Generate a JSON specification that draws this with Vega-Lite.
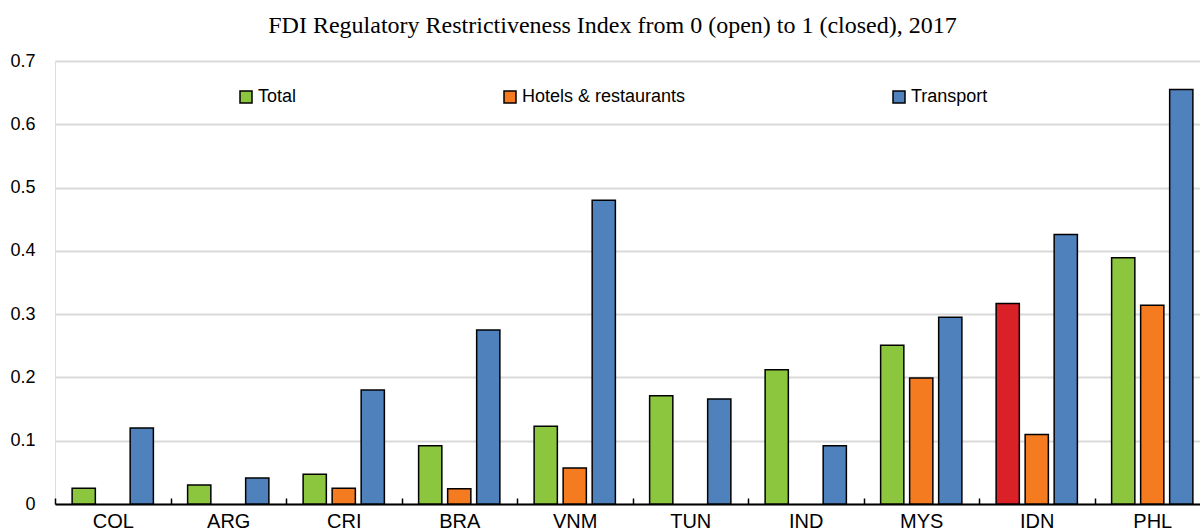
{
  "$schema": "https://vega.github.io/schema/vega-lite/v6.json",
  "autosize": "none",
  "width": 1145,
  "height": 443,
  "padding": {"left": 55, "top": 61, "right": 0, "bottom": 24},
  "background": "white",
  "title": {
    "text": "FDI Regulatory Restrictiveness Index from 0 (open) to 1 (closed), 2017",
    "font": "Liberation Serif",
    "fontSize": 24,
    "fontWeight": "normal",
    "color": "#000000",
    "anchor": "middle",
    "frame": "group",
    "dx": -15,
    "offset": 14
  },
  "data": {
    "values": [
      {"country": "COL", "series": "Total", "value": 0.025},
      {"country": "COL", "series": "Transport", "value": 0.120},
      {"country": "ARG", "series": "Total", "value": 0.030},
      {"country": "ARG", "series": "Transport", "value": 0.041},
      {"country": "CRI", "series": "Total", "value": 0.047},
      {"country": "CRI", "series": "Hotels & restaurants", "value": 0.025},
      {"country": "CRI", "series": "Transport", "value": 0.180},
      {"country": "BRA", "series": "Total", "value": 0.092},
      {"country": "BRA", "series": "Hotels & restaurants", "value": 0.024},
      {"country": "BRA", "series": "Transport", "value": 0.275},
      {"country": "VNM", "series": "Total", "value": 0.123},
      {"country": "VNM", "series": "Hotels & restaurants", "value": 0.057},
      {"country": "VNM", "series": "Transport", "value": 0.480},
      {"country": "TUN", "series": "Total", "value": 0.171},
      {"country": "TUN", "series": "Transport", "value": 0.166},
      {"country": "IND", "series": "Total", "value": 0.212},
      {"country": "IND", "series": "Transport", "value": 0.092},
      {"country": "MYS", "series": "Total", "value": 0.251},
      {"country": "MYS", "series": "Hotels & restaurants", "value": 0.199},
      {"country": "MYS", "series": "Transport", "value": 0.295},
      {"country": "IDN", "series": "Total", "value": 0.317},
      {"country": "IDN", "series": "Hotels & restaurants", "value": 0.110},
      {"country": "IDN", "series": "Transport", "value": 0.426},
      {"country": "PHL", "series": "Total", "value": 0.389},
      {"country": "PHL", "series": "Hotels & restaurants", "value": 0.314},
      {"country": "PHL", "series": "Transport", "value": 0.655}
    ]
  },
  "mark": {"type": "bar", "stroke": "#000000", "strokeWidth": 1.5},
  "encoding": {
    "x": {
      "field": "country",
      "type": "nominal",
      "sort": ["COL", "ARG", "CRI", "BRA", "VNM", "TUN", "IND", "MYS", "IDN", "PHL"],
      "scale": {"range": [0, 1155], "paddingInner": 0, "paddingOuter": 0},
      "axis": {
        "title": null,
        "labelAngle": 0,
        "labelFont": "Liberation Sans",
        "labelFontSize": 20,
        "labelColor": "#000000",
        "labelPadding": 13,
        "domainColor": "#000000",
        "domainWidth": 2,
        "tickColor": "#000000",
        "tickWidth": 1.5,
        "tickSize": -6,
        "tickBand": "extent",
        "grid": false
      }
    },
    "xOffset": {
      "field": "series",
      "type": "nominal",
      "scale": {"domain": ["Total", "Hotels & restaurants", "Transport"], "paddingInner": 0.2, "paddingOuter": 0.59}
    },
    "y": {
      "field": "value",
      "type": "quantitative",
      "scale": {"domain": [0, 0.7], "nice": false},
      "axis": {
        "title": null,
        "values": [0, 0.1, 0.2, 0.3, 0.4, 0.5, 0.6, 0.7],
        "format": ".1~f",
        "labelFont": "Liberation Sans",
        "labelFontSize": 18,
        "labelColor": "#000000",
        "labelPadding": 20,
        "domain": false,
        "ticks": false,
        "grid": true,
        "gridColor": "#D9D9D9",
        "gridWidth": 2
      }
    },
    "color": {
      "condition": {"test": "datum.country === 'IDN' && datum.series === 'Total'", "value": "#DA2128"},
      "field": "series",
      "type": "nominal",
      "scale": {"domain": ["Total", "Hotels & restaurants", "Transport"], "range": ["#8CC63F", "#F47B20", "#4F81BD"]},
      "legend": {
        "title": null,
        "orient": "none",
        "direction": "horizontal",
        "legendX": 182,
        "legendY": 27,
        "columnPadding": 204,
        "symbolType": "square",
        "symbolSize": 144,
        "symbolStrokeColor": "#000000",
        "symbolStrokeWidth": 1.5,
        "symbolOpacity": 1,
        "labelFont": "Liberation Sans",
        "labelFontSize": 18,
        "labelColor": "#000000",
        "labelOffset": 3,
        "labelLimit": 400
      }
    }
  }
}
